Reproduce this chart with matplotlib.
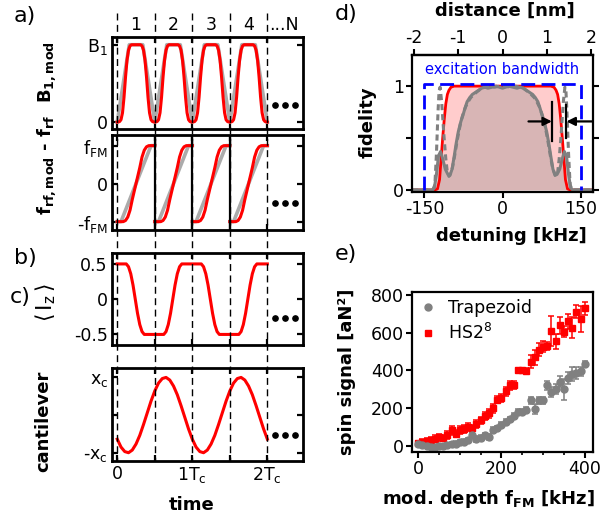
import matplotlib
matplotlib.use("Agg")
import matplotlib.pyplot as plt
import matplotlib.transforms as mtransforms
from matplotlib.lines import Line2D
from matplotlib.ticker import FixedLocator, MultipleLocator
import numpy as np

plt.rcParams.update({
    "font.family": "DejaVu Sans",
    "mathtext.fontset": "custom",
    "mathtext.rm": "DejaVu Sans",
    "mathtext.bf": "DejaVu Sans:bold",
    "mathtext.default": "regular",
    "axes.unicode_minus": False,
})

RED = "#ff0000"
LIGHT_GRAY = "#ababab"
GRAY = "#808080"

# ---- a) pulse shapes, time in units of Tc (one pulse = 0.5 Tc) ----
pulse_starts = [0.0, 0.5, 1.0, 1.5]
b1_t_trap = [0, 0.16, 0.34, 0.5]
b1_trap = [0, 1, 1, 0]
b1_t_hs = [0, 0.03, 0.05, 0.07, 0.09, 0.11, 0.13, 0.15, 0.17, 0.19, 0.25,
           0.31, 0.33, 0.35, 0.37, 0.39, 0.41, 0.43, 0.45, 0.47, 0.5]
b1_hs = [0, 0.005, 0.03, 0.12, 0.32, 0.58, 0.8, 0.93, 0.985, 1, 1,
         1, 0.985, 0.93, 0.8, 0.58, 0.32, 0.12, 0.03, 0.005, 0]
fm_t_trap = [0, 0.05, 0.45, 0.5]
fm_trap = [-1, -1, 1, 1]
fm_t_hs = [0, 0.08, 0.11, 0.14, 0.17, 0.2, 0.25, 0.3, 0.33, 0.36, 0.39, 0.42, 0.5]
fm_hs = [-1, -1, -0.97, -0.88, -0.7, -0.42, 0, 0.42, 0.7, 0.88, 0.97, 1, 1]

# ---- b) <Iz> during one pulse (sign flips every pulse) ----
iz_t = [0, 0.12, 0.15, 0.18, 0.21, 0.24, 0.27, 0.30, 0.33, 0.36, 0.5]
iz = [0.5, 0.5, 0.46, 0.36, 0.2, 0.0, -0.2, -0.36, -0.46, -0.5, -0.5]

# ---- c) cantilever position over one period ----
cl_t = [0, 0.05, 0.1, 0.15, 0.2, 0.25, 0.3, 0.35, 0.4, 0.45, 0.5,
        0.55, 0.6, 0.65, 0.7, 0.75, 0.8, 0.85, 0.9, 0.95, 1.0]
cl_x = [-0.64, -0.85, -0.97, -1.0, -0.93, -0.77, -0.54, -0.25, 0.06, 0.37, 0.64,
        0.85, 0.97, 1.0, 0.93, 0.77, 0.54, 0.25, -0.06, -0.37, -0.64]
cl_periods = [0.0, 1.0]

t_ticks = [0, 0.5, 1.0, 1.5, 2.0]
segment_labels = ["1", "2", "3", "4", "...N"]
segment_pos = [0.25, 0.75, 1.25, 1.75, 2.22]

# ---- d) fidelity vs detuning (negative half, mirrored) ----
det_hs_half = [-174, -130, -125, -121, -118, -115, -112, -109, -106, -103, -99, -93, 0]
fid_hs_half = [0, 0, 0.01, 0.1, 0.3, 0.5, 0.68, 0.83, 0.92, 0.96, 0.99, 1.0, 1.0]
det_tr_half = [-174, -135, -131, -127, -123, -119, -115, -110, -105, -101, -97, -93,
               -89, -85, -80, -76, -72, -68, -63, -58, -52, -46, -40, -34, -28,
               -20, -12, -6, 0]
fid_tr_half = [0, 0, 0.02, 0.15, 0.33, 0.37, 0.30, 0.20, 0.15, 0.14, 0.20, 0.32,
               0.45, 0.56, 0.66, 0.72, 0.79, 0.85, 0.89, 0.92, 0.94, 0.96, 0.98,
               0.99, 0.98, 0.99, 1.0, 0.99, 0.98]
det_trd_half = [-174, -134, -130, -127, -124, -122, -120, -117, -113, -109, -106,
                -103, -100, -96, -92, -88, -84, -80, -76, -71, -66, -61, -55, -48,
                -40, -33, -25, -15, -5, 0]
fid_trd_half = [0, 0, 0.05, 0.35, 0.75, 0.95, 0.99, 0.85, 0.55, 0.3, 0.17, 0.13,
                0.16, 0.22, 0.33, 0.45, 0.56, 0.66, 0.73, 0.8, 0.85, 0.89, 0.92,
                0.95, 0.98, 0.99, 1.0, 0.99, 1.0, 1.0]
bandwidth = [-150, 150]
nm_per_khz = 1 / 85.5

# ---- e) spin signal vs modulation depth ----
depth = [0, 10, 20, 30, 40, 50, 60, 70, 80, 90, 100, 110, 120, 130, 140, 150,
         160, 170, 180, 190, 200, 210, 220, 230, 240, 250, 260, 270, 280, 290,
         300, 310, 320, 330, 340, 350, 360, 370, 380, 390, 400]
sig_hs = [15, 22, 25, 30, 38, 45, 40, 58, 82, 65, 85, 90, 100, 92, 115, 135,
          158, 172, 198, 245, 255, 288, 320, 322, 400, 400, 398, 445, 470, 510,
          525, 530, 610, 555, 638, 605, 660, 625, 710, 672, 728]
err_hs = [10, 12, 15, 15, 18, 20, 15, 20, 25, 20, 22, 22, 22, 20, 20, 18,
          22, 25, 22, 20, 22, 22, 22, 20, 12, 12, 12, 35, 40, 35,
          30, 20, 80, 40, 45, 30, 40, 55, 35, 70, 35]
sig_trap = [8, 5, 0, -5, -5, -3, 0, 3, 8, 12, 18, 20, 28, 55, 35, 40,
            55, 48, 82, 92, 112, 125, 140, 158, 180, 178, 190, 240, 195, 240,
            240, 320, 285, 300, 340, 300, 360, 380, 385, 395, 435]
err_trap = [10, 10, 8, 8, 8, 10, 10, 10, 12, 12, 12, 15, 15, 15, 15, 15,
            15, 15, 15, 15, 15, 15, 15, 15, 15, 15, 18, 20, 25, 20,
            20, 25, 25, 25, 30, 55, 30, 35, 30, 25, 15]

W, H = 600, 518
fig = plt.figure(figsize=(W / 100, H / 100), dpi=100)


def px_rect(left, right, top, bottom):
    return [left / W, 1 - bottom / H, (right - left) / W, (bottom - top) / H]


def ftext(x, y, s, **kw):
    kw.setdefault("ha", "center")
    kw.setdefault("va", "center")
    fig.text(x / W, 1 - y / H, s, **kw)


def tile(starts, t_one, y_one, alternate=False, gap=False):
    ts, ys = [], []
    for k, s in enumerate(starts):
        sgn = (-1) ** k if alternate else 1
        ts += [s + t for t in t_one]
        ys += [sgn * y for y in y_one]
        if gap:
            ts.append(np.nan)
            ys.append(np.nan)
    return ts, ys


def mirror(xh, yh):
    return xh + [-x for x in xh[-2::-1]], yh + yh[-2::-1]


ax_b1 = fig.add_axes(px_rect(112, 303, 37, 129))
ax_fm = fig.add_axes(px_rect(112, 303, 135, 230))
ax_iz = fig.add_axes(px_rect(112, 303, 253, 345))
ax_cl = fig.add_axes(px_rect(112, 303, 368, 461))
ax_d = fig.add_axes(px_rect(412, 593, 55, 192))
ax_e = fig.add_axes(px_rect(412, 593, 292, 452))

dots_t = [2.10, 2.235, 2.37]
left_axes = [(ax_b1, 0.22), (ax_fm, -0.51), (ax_iz, -0.27), (ax_cl, -0.53)]
for ax, dot_y in left_axes:
    ax.set_xlim(-0.07, 2.475)
    ax.set_xticks(t_ticks)
    ax.set_xticklabels([])
    ax.tick_params(direction="in", length=4, width=1.6, top=True, right=True,
                   labelsize=12.5, pad=3)
    for sp in ax.spines.values():
        sp.set_linewidth(2)
    ax.plot(dots_t, [dot_y] * 3, "o", color="k", ms=3.8)

# a) B1 amplitude
t, y = tile(pulse_starts, b1_t_trap, b1_trap)
ax_b1.plot(t, y, color=LIGHT_GRAY, lw=2.6)
t, y = tile(pulse_starts, b1_t_hs, b1_hs)
ax_b1.plot(t, y, color=RED, lw=2.2)
ax_b1.set_ylim(-0.09, 1.1)
ax_b1.set_yticks([0, 1])
ax_b1.set_yticklabels(["0", "B$_1$"])

# a) frequency offset
t, y = tile(pulse_starts, fm_t_trap, fm_trap, gap=True)
ax_fm.plot(t, y, color=LIGHT_GRAY, lw=2.6)
t, y = tile(pulse_starts, fm_t_hs, fm_hs, gap=True)
ax_fm.plot(t, y, color=RED, lw=2.2)
for s in pulse_starts[1:]:
    ax_fm.axvline(s, color="k", lw=1.6)
ax_fm.set_ylim(-1.22, 1.28)
ax_fm.set_yticks([-1, 0, 1])
ax_fm.set_yticklabels(["-f$_{FM}$", "0", "f$_{FM}$"])

# b) <Iz>
t, y = tile(pulse_starts, iz_t, iz, alternate=True)
ax_iz.plot(t, y, color=RED, lw=2.2)
ax_iz.set_ylim(-0.65, 0.655)
ax_iz.set_yticks([-0.5, 0, 0.5])
ax_iz.set_yticklabels(["-0.5", "0", "0.5"])

# c) cantilever
t, y = tile(cl_periods, cl_t, cl_x)
ax_cl.plot(t, y, color=RED, lw=2.2)
ax_cl.set_ylim(-1.22, 1.25)
ax_cl.set_yticks([-1, 0, 1])
ax_cl.set_yticklabels(["-x$_c$", "", "x$_c$"])
ax_cl.set_xticklabels(["0", "", "1T$_c$", "", "2T$_c$"])

# dashed pulse boundaries across all left panels
trans = mtransforms.blended_transform_factory(ax_cl.transData, fig.transFigure)
for s in t_ticks:
    fig.add_artist(Line2D([s, s], [1 - 13 / H, 1 - 461 / H], transform=trans,
                          color="k", lw=1.0, ls=(0, (5, 3.2))))
for s, lab in zip(segment_pos, segment_labels):
    fig.text(s, 1 - 25 / H, lab, transform=trans, ha="center", va="center",
             fontsize=12.5)

# d) fidelity
dh, fh = mirror(det_hs_half, fid_hs_half)
dt, ft = mirror(det_tr_half, fid_tr_half)
dd, fd = mirror(det_trd_half, fid_trd_half)
ax_d.fill_between(dh, fh, color=RED, alpha=0.2, lw=0)
ax_d.fill_between(dt, ft, color=GRAY, alpha=0.3, lw=0)
ax_d.plot(dh, fh, color=RED, lw=2)
ax_d.plot(dd, fd, color=GRAY, lw=2.2, ls=(0, (2, 1.3)))
ax_d.plot(dt, ft, color=GRAY, lw=2.2)
ax_d.plot([bandwidth[0], bandwidth[0], bandwidth[1], bandwidth[1]], [0, 1.02, 1.02, 0],
          color="#0000ff", lw=2, ls=(0, (5, 2.3)))
ax_d.text(0, 1.16, "excitation bandwidth", color="#0000ff", fontsize=10.5,
          ha="center", va="center")
ax_d.plot([96, 96], [0.47, 0.85], color="k", lw=1.6)
ax_d.plot([122, 122], [0.5, 0.82], color="k", lw=1.6)
arrow = dict(arrowstyle="-|>,head_length=0.5,head_width=0.25", color="k", lw=1.6,
             shrinkA=0, shrinkB=0)
ax_d.annotate("", xy=(95, 0.66), xytext=(50, 0.66), arrowprops=arrow)
ax_d.annotate("", xy=(123, 0.66), xytext=(172, 0.66), arrowprops=arrow)
ax_d.set_xlim(-174, 174)
ax_d.set_ylim(-0.02, 1.3)
ax_d.set_xticks([-150, 0, 150])
ax_d.set_yticks([0, 1])
ax_d.yaxis.set_minor_locator(FixedLocator([0.5]))
ax_d.tick_params(which="both", direction="out", length=4, width=1.5, right=True,
                 labelsize=12.5, pad=2)
for sp in ax_d.spines.values():
    sp.set_linewidth(1.6)
top = ax_d.secondary_xaxis("top", functions=(lambda d: d * nm_per_khz,
                                             lambda n: n / nm_per_khz))
top.set_xticks([-2, -1, 0, 1, 2])
top.tick_params(direction="out", length=4, width=1.5, labelsize=12.5, pad=2)
top.spines["top"].set_linewidth(1.6)

# e) spin signal
ax_e.errorbar(depth, sig_hs, yerr=err_hs, fmt="s", color=RED, ms=4.5,
              capsize=2.5, elinewidth=1.1, capthick=1.1)
ax_e.errorbar(depth, sig_trap, yerr=err_trap, fmt="o", color=GRAY, ms=5,
              capsize=2.5, elinewidth=1.1, capthick=1.1)
ax_e.set_xlim(-15, 420)
ax_e.set_ylim(-33, 815)
ax_e.set_xticks([0, 200, 400])
ax_e.xaxis.set_minor_locator(MultipleLocator(50))
ax_e.set_yticks([0, 200, 400, 600, 800])
ax_e.tick_params(which="major", direction="out", length=4, width=1.5,
                 labelsize=12.5, pad=2)
ax_e.tick_params(which="minor", direction="out", length=2.5, width=1.2)
for sp in ax_e.spines.values():
    sp.set_linewidth(1.6)
handles = [Line2D([], [], ls="none", marker="o", color=GRAY, ms=5),
           Line2D([], [], ls="none", marker="s", color=RED, ms=4.5)]
ax_e.legend(handles, ["Trapezoid", "HS2$^8$"], loc="upper left", frameon=False,
            fontsize=12.5, handlelength=1.0, handletextpad=0.7,
            labelspacing=0.35, borderaxespad=0.2, borderpad=0.2)

# labels
bold = dict(fontweight="bold", fontsize=13)
ftext(47, 72, r"B$_{\mathbf{1,mod}}$", rotation=90, **bold)
ftext(47, 165, r"f$_{\mathbf{rf,mod}}$ - f$_{\mathbf{rf}}$", rotation=90, **bold)
ftext(46, 303, r"$\langle\,I_z\,\rangle$", rotation=90, fontsize=15.5)
ftext(43, 421, "cantilever", rotation=90, **bold)
ftext(192, 505, "time", **bold)
ftext(368, 122, "fidelity", rotation=90, **bold)
ftext(511, 236, "detuning [kHz]", **bold)
ftext(505, 11, "distance [nm]", **bold)
ftext(347, 372, "spin signal [aN²]", rotation=90, **bold)
ftext(489, 499, r"mod. depth f$_{\mathbf{FM}}$ [kHz]", **bold)

for x, y, lab in [(25, 16, "a)"), (25, 258, "b)"), (20, 297, "c)"),
                  (346, 14, "d)"), (346, 254, "e)")]:
    ftext(x, y, lab, fontsize=16)

fig.savefig("out.png", dpi=100)
